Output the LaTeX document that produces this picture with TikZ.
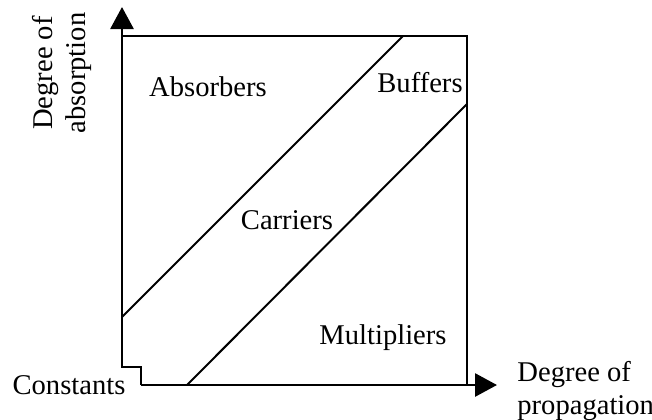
\documentclass[tikz,border=0pt]{standalone}
\usepackage{fontspec}
\setmainfont{Liberation Serif}
\usetikzlibrary{arrows.meta}
\begin{document}
\begin{tikzpicture}[x=0.5pt,y=-0.5pt,
  axis/.style={line width=1.4pt,-{Triangle[length=11pt,width=11.5pt]}},
  frame/.style={line width=1.4pt},
  band/.style={line width=1pt},
  lbl/.style={font=\fontsize{14.3}{14}\selectfont,inner sep=0pt},
  axlbl/.style={font=\fontsize{14.3}{14}\selectfont,inner sep=0pt,align=left}]
\useasboundingbox (0,0) rectangle (652,419);
% corner points of the chart
\coordinate (ytip) at (122,7);
\coordinate (xtip) at (497,385);
\coordinate (tl) at (122,36);
\coordinate (tr) at (467,36);
\coordinate (br) at (467,385);
\coordinate (n1) at (122,367);
\coordinate (n2) at (141,367);
\coordinate (n3) at (141,385);
% band boundaries
\coordinate (a1) at (122,317);
\coordinate (a2) at (403,36);
\coordinate (b1) at (187,385);
\coordinate (b2) at (467,104);
% axes with the notch at the origin
\draw[axis] (n3) -- (n2) -- (n1) -- (ytip);
\draw[axis] (n3) -- (xtip);
\draw[frame] (tl) -- (tr) -- (br);
\draw[band] (a1) -- (a2);
\draw[band] (b1) -- (b2);
% region labels
\node[lbl] (abs) at (208,87) {Absorbers};
\node[lbl] (buf) at (420,83) {Buffers};
\node[lbl] (car) at (287,220) {Carriers};
\node[lbl] (mul) at (383,338) {Multipliers};
\node[lbl] (con) at (69,385) {Constants};
% axis labels
\node[axlbl,anchor=west] (xl) at (517,391) {Degree of\\[2.5pt]propagation};
\node[axlbl,rotate=90,align=center] (yl) at (62,73) {Degree of\\[2.5pt]absorption};
\end{tikzpicture}
\end{document}
